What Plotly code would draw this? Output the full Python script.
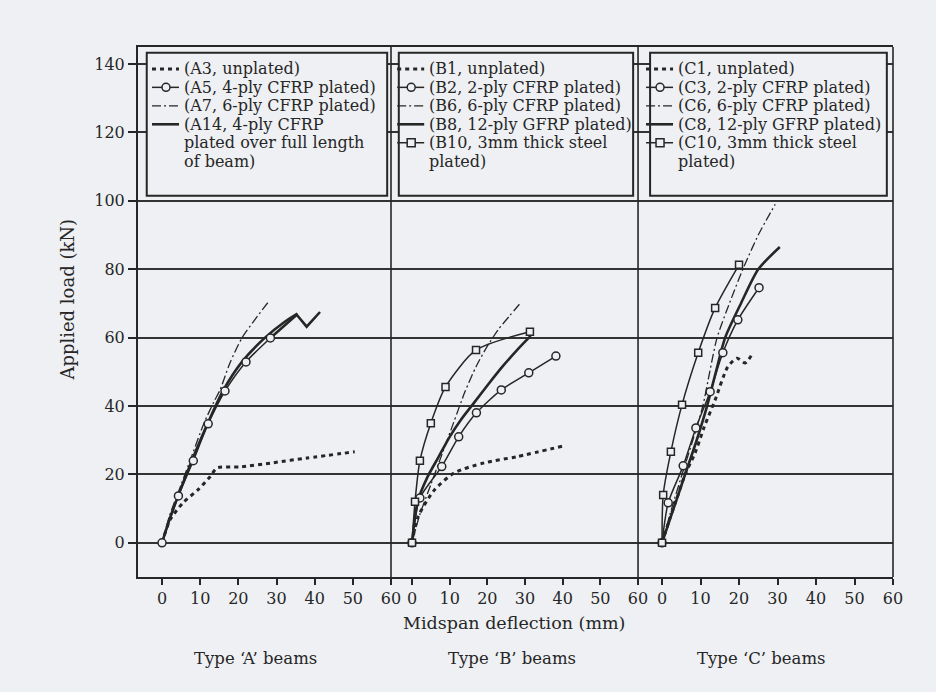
import plotly.graph_objects as go

# ---------------- data ----------------
# Type 'A' beams
A3_x = [0, 2.1, 5.5, 9.4, 12.6, 14.4, 20.4, 29, 38, 50.5]
A3_y = [0, 6.7, 11.7, 15.5, 19.3, 21.9, 22.2, 23.4, 24.8, 26.6]
A5_x = [0, 4.3, 8.2, 12.1, 16.5, 22, 28.4]
A5_y = [0, 13.7, 24, 34.8, 44.4, 52.9, 59.9]
A5_tail_x = [28.4, 32, 35.3, 37.9, 41.4]
A5_tail_y = [59.9, 63.5, 66.7, 63.2, 67.5]
A7_x = [0, 2, 5, 8, 11, 13.5, 15.2, 17.8, 21, 24.5, 27.7]
A7_y = [0, 8, 17, 26, 35, 41, 44.7, 52.6, 60, 65.5, 70.2]
A14_x = [0, 2, 5, 8, 12, 16, 21, 27, 32, 35.5]
A14_y = [0, 7, 16, 24.5, 35, 44.5, 53, 60, 64.5, 67]

# Type 'B' beams
B1_x = [0, 1.6, 6, 11.3, 19.2, 27.9, 40.8]
B1_y = [0, 7.6, 15.5, 20.5, 23.4, 25.2, 28.5]
B2_x = [0, 2.1, 7.9, 12.4, 17.1, 23.7, 31, 38.2]
B2_y = [0, 13.1, 22.3, 31, 38, 44.7, 49.7, 54.6]
B6_x = [0, 2, 5, 8, 11, 14, 17, 20, 23, 26, 28.7]
B6_y = [0, 8, 17, 26, 35, 44, 51.5, 57.5, 62.5, 66.5, 70]
B8_x = [0, 1.5, 4, 7, 10, 13, 16.5, 20, 24, 28, 31.5]
B8_y = [0, 12, 19, 25, 31, 36, 41, 46, 51.5, 56.5, 60.5]
B10_x = [0, 0.8, 2.1, 5, 8.9, 17, 31.3]
B10_y = [0, 12, 24, 35, 45.6, 56.4, 61.7]

# Type 'C' beams
C1_x = [0, 2, 4, 6, 8.6, 11, 13.8, 17.1, 19.5, 21.6, 23.6]
C1_y = [0, 7, 13.5, 20, 26.3, 34, 41.8, 51.5, 54, 52.6, 55.5]
C3_x = [0, 1.6, 5.5, 8.8, 12.5, 15.8, 19.7, 25.2]
C3_y = [0, 11.7, 22.5, 33.6, 44.2, 55.6, 65.2, 74.6]
C6_x = [0, 2.5, 5.2, 8, 10.6, 12.4, 14.3, 17.5, 21, 25, 29.4]
C6_y = [0, 10, 20, 30, 40, 50, 60, 70, 80, 90, 99]
C8_x = [0, 3, 6, 9, 11.7, 14, 16.4, 20.5, 25, 30.6]
C8_y = [0, 10, 20, 30, 40, 50, 60, 70, 80, 86.5]
C10_x = [0, 0.3, 2.3, 5.2, 9.4, 13.8, 20]
C10_y = [0, 14, 26.6, 40.4, 55.6, 68.7, 81.3]

x_ticks = [0, 10, 20, 30, 40, 50, 60]
y_ticks = [0, 20, 40, 60, 80, 100, 120, 140]

legend_A = [("unplated", ["(A3, unplated)"]),
            ("circle", ["(A5, 4-ply CFRP plated)"]),
            ("dashdot", ["(A7, 6-ply CFRP plated)"]),
            ("solid", ["(A14, 4-ply CFRP", "plated over full length", "of beam)"])]
legend_B = [("unplated", ["(B1, unplated)"]),
            ("circle", ["(B2, 2-ply CFRP plated)"]),
            ("dashdot", ["(B6, 6-ply CFRP plated)"]),
            ("solid", ["(B8, 12-ply GFRP plated)"]),
            ("square", ["(B10, 3mm thick steel", "plated)"])]
legend_C = [("unplated", ["(C1, unplated)"]),
            ("circle", ["(C3, 2-ply CFRP plated)"]),
            ("dashdot", ["(C6, 6-ply CFRP plated)"]),
            ("solid", ["(C8, 12-ply GFRP plated)"]),
            ("square", ["(C10, 3mm thick steel", "plated)"])]
panel_titles = ["Type \u2018A\u2019 beams", "Type \u2018B\u2019 beams", "Type \u2018C\u2019 beams"]

# ---------------- styling ----------------
BG = "#eef0f3"
INK = "#262626"
FONT = "DejaVu Serif"

STYLES = {
    "unplated": dict(mode="lines", line=dict(color=INK, width=3, dash="4px,4px")),
    "circle": dict(mode="lines+markers", line=dict(color=INK, width=1.5),
                   marker=dict(symbol="circle", size=8, color=BG, line=dict(color=INK, width=1.5))),
    "dashdot": dict(mode="lines", line=dict(color=INK, width=1.3, dash="9px,3px,2px,3px")),
    "solid": dict(mode="lines", line=dict(color=INK, width=2.6)),
    "square": dict(mode="lines+markers", line=dict(color=INK, width=1.5),
                   marker=dict(symbol="square", size=7, color=BG, line=dict(color=INK, width=1.5))),
}

fig = go.Figure()


def add(xs, ys, xa, style, name, shape="spline"):
    st = STYLES[style]
    line = dict(st["line"])
    line["shape"] = shape
    if shape == "spline":
        line["smoothing"] = 0.7
    kw = dict(x=xs, y=ys, xaxis=xa, yaxis="y", name=name, mode=st["mode"],
              line=line, showlegend=False, hoverinfo="x+y+name")
    if "marker" in st:
        kw["marker"] = st["marker"]
    fig.add_trace(go.Scatter(**kw))


add(A3_x, A3_y, "x", "unplated", "A3")
add(A7_x, A7_y, "x", "dashdot", "A7")
add(A14_x, A14_y, "x", "solid", "A14")
add(A5_tail_x, A5_tail_y, "x", "solid", "A5", shape="linear")
add(A5_x, A5_y, "x", "circle", "A5")

add(B1_x, B1_y, "x2", "unplated", "B1")
add(B6_x, B6_y, "x2", "dashdot", "B6")
add(B8_x, B8_y, "x2", "solid", "B8")
add(B2_x, B2_y, "x2", "circle", "B2")
add(B10_x, B10_y, "x2", "square", "B10")

add(C1_x, C1_y, "x3", "unplated", "C1")
add(C6_x, C6_y, "x3", "dashdot", "C6")
add(C8_x, C8_y, "x3", "solid", "C8")
add(C3_x, C3_y, "x3", "circle", "C3")
add(C10_x, C10_y, "x3", "square", "C10")

# ---------------- layout ----------------
doms = [[0, 0.3351], [0.3351, 0.6623], [0.6623, 1]]
ranges = [[-6.29, 60], [-5.57, 60], [-6.23, 60]]
axis_common = dict(tickvals=x_ticks, ticks="outside", ticklen=6, tickwidth=1.5,
                   tickcolor=INK, showline=True, linecolor=INK, linewidth=2,
                   mirror=True, showgrid=False, zeroline=False, anchor="y",
                   tickfont=dict(family=FONT, size=16, color=INK))

layout = dict(
    width=936, height=692,
    margin=dict(l=138, r=43, t=47, b=115),
    paper_bgcolor=BG, plot_bgcolor=BG,
    font=dict(family=FONT, color=INK),
    yaxis=dict(range=[-10, 145], tickvals=y_ticks, ticks="outside", ticklen=8,
               tickwidth=1.5, tickcolor=INK, showline=True, linecolor=INK,
               linewidth=2, mirror=False, showgrid=True, gridcolor="#333333",
               gridwidth=2, zeroline=False, anchor="x",
               tickfont=dict(family=FONT, size=16, color=INK)),
)
for i, key in enumerate(["xaxis", "xaxis2", "xaxis3"]):
    ax = dict(axis_common)
    ax["domain"] = doms[i]
    ax["range"] = ranges[i]
    layout[key] = ax
fig.update_layout(**layout)

shapes = []
annots = []

# panel dividers and right frame edge
for xp in [doms[1][0], doms[2][0], 1.0]:
    shapes.append(dict(type="line", xref="paper", yref="paper", x0=xp, x1=xp,
                       y0=0, y1=1, line=dict(color=INK, width=1.6), layer="above"))

# ---------------- legend boxes (drawn in each panel) ----------------
rows_y = [138.6, 133.2, 127.8, 122.4, 117.0, 111.5]
boxes = [("x", -4.0, 59.0, 5.5, legend_A),
         ("x2", -3.5, 58.7, 4.3, legend_B),
         ("x3", -3.1, 58.4, 3.9, legend_C)]
for xref, bx0, bx1, tx, entries in boxes:
    shapes.append(dict(type="rect", xref=xref, yref="y", x0=bx0, x1=bx1,
                       y0=101.5, y1=143.3, fillcolor=BG,
                       line=dict(color=INK, width=2), layer="between"))
    r = 0
    for style, lines in entries:
        st = STYLES[style]
        yy = rows_y[r]
        shapes.append(dict(type="line", xref=xref, yref="y", xsizemode="pixel",
                           xanchor=tx, x0=-31, x1=-4, y0=yy, y1=yy,
                           line=dict(color=INK, width=st["line"]["width"],
                                     dash=st["line"].get("dash", "solid")),
                           layer="above"))
        if style in ("circle", "square"):
            shapes.append(dict(type="circle" if style == "circle" else "rect",
                               xref=xref, yref="y", xsizemode="pixel",
                               ysizemode="pixel", xanchor=tx, yanchor=yy,
                               x0=-21, x1=-13, y0=-4, y1=4, fillcolor=BG,
                               line=dict(color=INK, width=1.5), layer="above"))
        for ln in lines:
            annots.append(dict(xref=xref, yref="y", x=tx, y=rows_y[r], text=ln,
                               xanchor="left", yanchor="middle", showarrow=False,
                               borderpad=0,
                               font=dict(family=FONT, size=16, color=INK)))
            r += 1

annots.append(dict(xref="paper", yref="paper", x=0.498, y=-0.087,
                   text="Midspan deflection (mm)", showarrow=False,
                   xanchor="center", yanchor="middle",
                   font=dict(family=FONT, size=17.5, color=INK)))
for xc, t in zip([0.155, 0.495, 0.826], panel_titles):
    annots.append(dict(xref="paper", yref="paper", x=xc, y=-0.153, text=t,
                       showarrow=False, xanchor="center", yanchor="middle",
                       font=dict(family=FONT, size=16.5, color=INK)))
annots.append(dict(xref="paper", yref="paper", x=-0.093, y=0.523,
                   text="Applied load (kN)", textangle=-90, showarrow=False,
                   xanchor="center", yanchor="middle",
                   font=dict(family=FONT, size=18, color=INK)))

fig.update_layout(shapes=shapes, annotations=annots)
fig.write_html(
    "out.html",
    config={"displayModeBar": False},
    post_script="document.body.style.margin='0';"
                "document.body.style.background='" + BG + "';",
)
